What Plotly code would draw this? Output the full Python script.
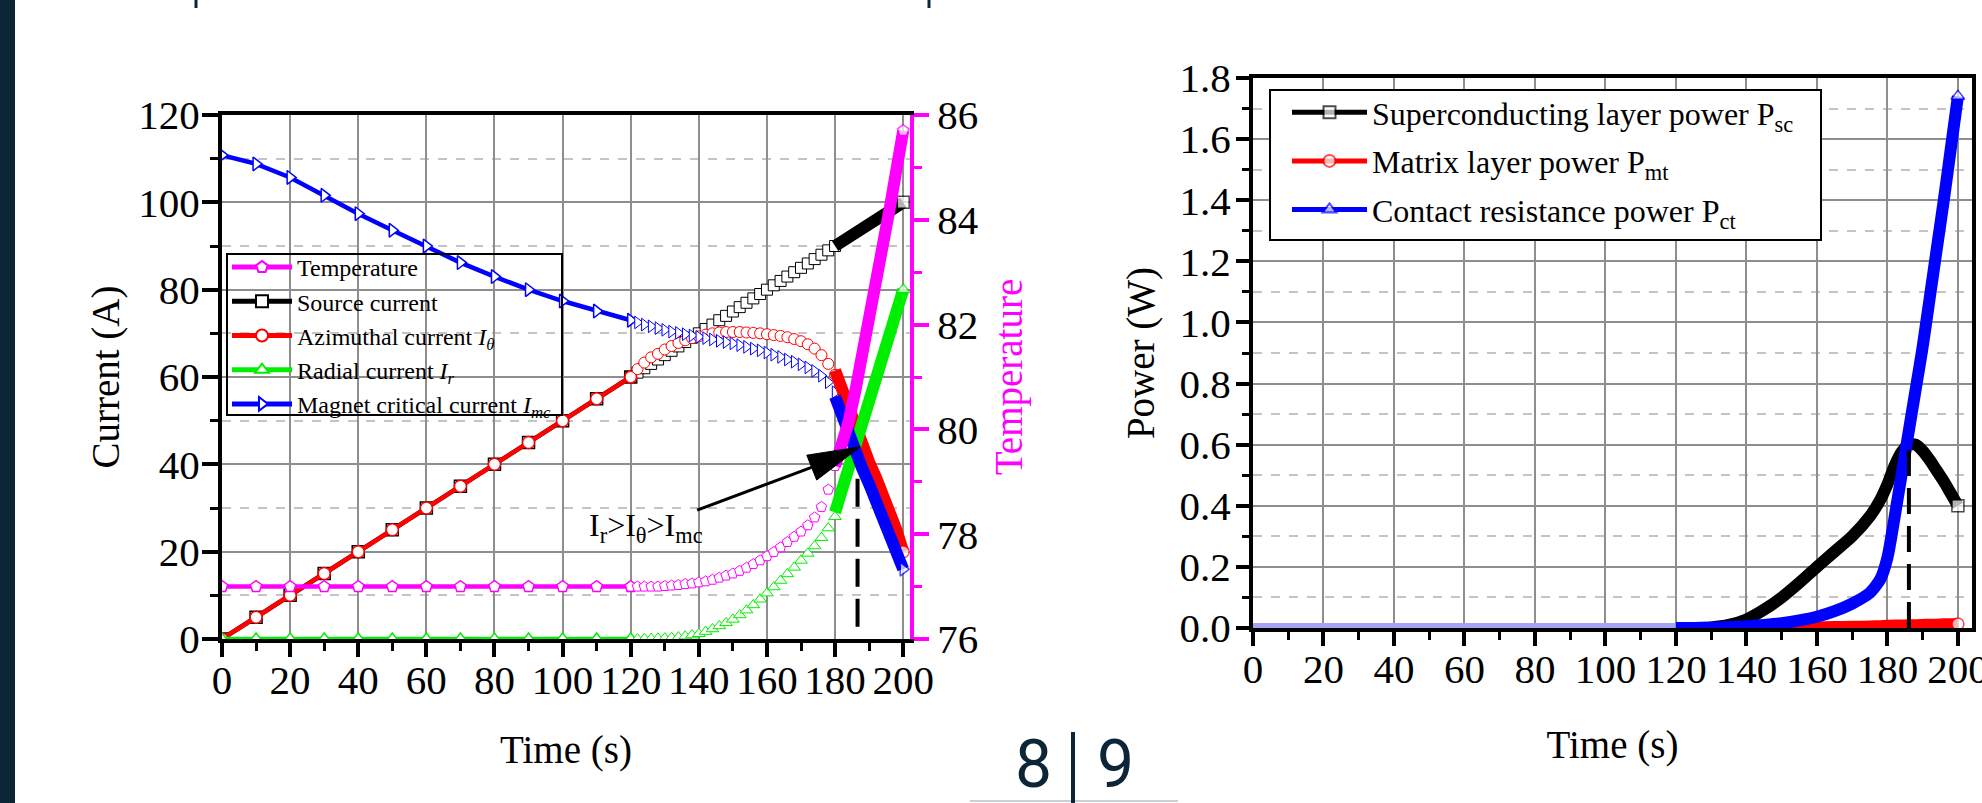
import plotly.graph_objects as go

W, H = 1982, 803
FONT = "Liberation Serif"
MAG = "#ff00ff"
RED = "#ff0000"
GREEN = "#00ee00"
BLUE = "#0000ff"
NAVY = "#0c2537"

# ---------------- Left chart: currents and temperature ----------------
T_SPARSE = [0, 10, 20, 30, 40, 50, 60, 70, 80, 90, 100, 110, 120]
TEMP_SPARSE = [77.0, 77.0, 77.0, 77.0, 77.0, 77.0, 77.0, 77.0, 77.0, 77.0, 77.0, 77.0, 77.0]
SRC_SPARSE = [0, 5, 10, 15, 20, 25, 30, 35, 40, 45, 50, 55, 60]
AZI_SPARSE = [0, 5, 10, 15, 20, 25, 30, 35, 40, 45, 50, 55, 60]
RAD_SPARSE = [0, 0, 0, 0, 0, 0, 0, 0, 0, 0, 0, 0, 0]
IMC_SPARSE = [110.8, 108.8, 105.7, 101.6, 97.4, 93.6, 90.0, 86.2, 83.0, 80.0, 77.4, 75.1, 73.0]

T_DENSE = [120, 122, 124, 126, 128, 130, 132, 134, 136, 138, 140, 142, 144, 146, 148, 150,
           152, 154, 156, 158, 160, 162, 164, 166, 168, 170, 172, 174, 176, 178, 180]
TEMP_DENSE = [77.0, 77.0, 77.0, 77.0, 77.0, 77.01, 77.02, 77.03, 77.05, 77.06, 77.08, 77.1,
              77.13, 77.17, 77.21, 77.25, 77.3, 77.36, 77.43, 77.5, 77.58, 77.66, 77.75,
              77.85, 77.95, 78.05, 78.17, 78.32, 78.52, 78.85, 79.3]
SRC_DENSE = [60, 61, 62, 63, 64, 65, 66, 67, 68, 69, 70, 71, 72, 73, 74, 75, 76, 77, 78, 79,
             80, 81, 82, 83, 84, 85, 86, 87, 88, 89, 90]
AZI_DENSE = [60.0, 61.8, 63.3, 64.5, 65.3, 66.3, 67.1, 67.8, 68.4, 68.9, 69.3, 69.7, 70.0,
             70.2, 70.3, 70.3, 70.3, 70.2, 70.1, 70.0, 69.8, 69.6, 69.4, 69.1, 68.7, 68.2,
             67.5, 66.5, 65.0, 63.0, 60.5]
RAD_DENSE = [0.0, 0.0, 0.05, 0.1, 0.15, 0.2, 0.3, 0.45, 0.65, 0.9, 1.2, 1.7, 2.3, 3.0, 3.7,
             4.5, 5.5, 6.6, 7.8, 9.1, 10.5, 11.9, 13.4, 14.9, 16.4, 18.0, 19.6, 21.3, 23.2,
             25.4, 28.0]
IMC_DENSE = [73.0, 72.5, 72.0, 71.6, 71.2, 70.8, 70.4, 70.1, 69.8, 69.5, 69.2, 68.9, 68.6,
             68.3, 68.0, 67.7, 67.3, 66.9, 66.5, 66.1, 65.6, 65.1, 64.6, 64.0, 63.5, 62.9,
             62.2, 61.4, 60.3, 58.8, 56.5]

T_THICK = [180, 182, 184, 186, 188, 190, 192, 194, 196, 198, 200]
TEMP_THICK = [79.3, 79.7, 80.15, 80.75, 81.4, 82.05, 82.75, 83.45, 84.2, 84.95, 85.7]
SRC_THICK = [90, 91, 92, 93, 94, 95, 96, 97, 98, 99, 100]
AZI_THICK = [61.5, 57.0, 52.5, 48.0, 44.0, 40.5, 37.0, 33.5, 29.5, 25.0, 20.0]
RAD_THICK = [29.0, 34.0, 39.0, 44.0, 49.0, 53.5, 58.5, 63.5, 69.0, 74.5, 80.0]
IMC_THICK = [55.5, 51.0, 47.0, 43.0, 39.0, 35.5, 31.5, 27.5, 23.5, 20.0, 16.0]

QUENCH_T_LEFT = 186.6
QUENCH_I = [2.8, 43.0]

# ---------------- Right chart: power ----------------
TP_ZERO = [0, 10, 20, 30, 40, 50, 60, 70, 80, 90, 100, 110, 120]
P_ZERO = [0, 0, 0, 0, 0, 0, 0, 0, 0, 0, 0, 0, 0]
TP = [120, 125, 130, 135, 140, 145, 150, 155, 160, 165, 170, 175, 178, 180, 182, 184,
      186, 188, 190, 192, 194, 196, 198, 200]
PSC = [0.0, 0.0, 0.002, 0.01, 0.028, 0.06, 0.1, 0.148, 0.2, 0.25, 0.3, 0.365, 0.42, 0.47,
       0.53, 0.575, 0.6, 0.6, 0.58, 0.55, 0.515, 0.48, 0.44, 0.40]
PMT = [0.0, 0.0, 0.0, 0.0, 0.0, 0.0, 0.0, 0.001, 0.002, 0.003, 0.004, 0.005, 0.006, 0.007,
       0.008, 0.008, 0.009, 0.009, 0.01, 0.011, 0.011, 0.012, 0.012, 0.013]
PCT = [0.0, 0.0, 0.001, 0.003, 0.006, 0.01, 0.016, 0.025, 0.037, 0.055, 0.08, 0.115, 0.16,
       0.23, 0.36, 0.5, 0.64, 0.78, 0.92, 1.08, 1.24, 1.4, 1.57, 1.74]
QUENCH_T_RIGHT = 186.1
QUENCH_P = [0.0, 0.6]

fig = go.Figure()


def end_sizes(n, s=12):
    return [0] * (n - 1) + [s]


def add_series(name, rank, color, symbol, yaxis, ts, ys, td, yd):
    fig.add_trace(go.Scatter(
        x=ts, y=ys, xaxis="x", yaxis=yaxis, mode="lines+markers", name=name,
        legend="legend", legendrank=rank,
        line=dict(color=color, width=4.5),
        marker=dict(symbol=symbol, size=12, color="white", line=dict(color=color, width=1.5)),
    ))
    fig.add_trace(go.Scatter(
        x=td, y=yd, xaxis="x", yaxis=yaxis, mode="markers", showlegend=False,
        marker=dict(symbol=symbol, size=11, color="white", line=dict(color=color, width=1)),
    ))


def add_thick(color, symbol, yaxis, tt, yt):
    fig.add_trace(go.Scatter(
        x=tt, y=yt, xaxis="x", yaxis=yaxis, mode="lines+markers", showlegend=False,
        line=dict(color=color, width=12),
        marker=dict(symbol=symbol, size=end_sizes(len(tt)), color="white",
                    line=dict(color=color, width=1.5)),
    ))


add_series("Source current", 2, "black", "square", "y", T_SPARSE, SRC_SPARSE, T_DENSE, SRC_DENSE)
add_series("Azimuthal current <i>I</i><sub><i>θ</i></sub>", 3, RED, "circle", "y",
           T_SPARSE, AZI_SPARSE, T_DENSE, AZI_DENSE)
add_series("Radial current <i>I</i><sub><i>r</i></sub>", 4, GREEN, "triangle-up", "y",
           T_SPARSE, RAD_SPARSE, T_DENSE, RAD_DENSE)
add_series("Magnet critical current <i>I</i><sub><i>mc</i></sub>", 5, BLUE, "triangle-right", "y",
           T_SPARSE, IMC_SPARSE, T_DENSE, IMC_DENSE)

fig.add_trace(go.Scatter(
    x=[QUENCH_T_LEFT, QUENCH_T_LEFT], y=QUENCH_I, xaxis="x", yaxis="y", mode="lines",
    showlegend=False, line=dict(color="black", width=4, dash="28px,12px"),
))

add_thick("black", "square", "y", T_THICK, SRC_THICK)
add_thick(RED, "circle", "y", T_THICK, AZI_THICK)
add_thick(GREEN, "triangle-up", "y", T_THICK, RAD_THICK)
add_thick(BLUE, "triangle-right", "y", T_THICK, IMC_THICK)

add_series("Temperature", 1, MAG, "pentagon", "y2", T_SPARSE, TEMP_SPARSE, T_DENSE, TEMP_DENSE)
add_thick(MAG, "pentagon", "y2", T_THICK, TEMP_THICK)

# ---------------- Right chart traces ----------------
for zc in ["black", RED]:
    fig.add_trace(go.Scatter(
        x=TP_ZERO, y=P_ZERO, xaxis="x2", yaxis="y3", mode="lines", showlegend=False,
        line=dict(color=zc, width=6),
    ))
fig.add_trace(go.Scatter(
    x=TP_ZERO, y=P_ZERO, xaxis="x2", yaxis="y3", mode="lines", showlegend=False,
    line=dict(color="#a4a4f2", width=10),
))

for name, rank, color, symbol, vals in [
    ("Superconducting layer power P<sub>sc</sub>", 1, "black", "square", PSC),
    ("Matrix layer power P<sub>mt</sub>", 2, RED, "circle", PMT),
    ("Contact resistance power P<sub>ct</sub>", 3, BLUE, "triangle-up", PCT),
]:
    fig.add_trace(go.Scatter(
        x=TP, y=vals, xaxis="x2", yaxis="y3", mode="lines+markers", name=name,
        legend="legend2", legendrank=rank, legendgroup=name,
        line=dict(color=color, width=12, shape="spline", smoothing=0.6),
        marker=dict(symbol=symbol, size=end_sizes(len(TP)), color="white",
                    line=dict(color=color, width=1.5)),
    ))

fig.add_trace(go.Scatter(
    x=[QUENCH_T_RIGHT, QUENCH_T_RIGHT], y=QUENCH_P, xaxis="x2", yaxis="y3", mode="lines",
    showlegend=False, line=dict(color="black", width=4, dash="26px,12px"),
))

# ---------------- Axes ----------------
GRID = "#8e8e8e"
MINOR_GRID = "#c4c4c4"
TICK_SIZE = 41


def tfont(color="black", size=TICK_SIZE):
    return dict(family=FONT, size=size, color=color)


def x_axis(domain, rng, anchor, standoff):
    return dict(
        domain=domain, range=rng, anchor=anchor, automargin=False,
        showline=True, linecolor="black", linewidth=4,
        mirror=True, ticks="outside", ticklen=14, tickwidth=3.5, tickcolor="black",
        tick0=0, dtick=20, ticklabelstandoff=-12, ticklabeloverflow="allow",
        minor=dict(dtick=10, ticks="outside", ticklen=8, tickwidth=3, tickcolor="black", showgrid=False),
        showgrid=True, gridcolor=GRID, gridwidth=2, zeroline=False,
        tickfont=tfont(),
        title=dict(text="Time (s)", font=tfont(size=39), standoff=standoff),
    )


fig.update_layout(
    width=W, height=H, autosize=False,
    margin=dict(l=0, r=0, t=0, b=0, pad=0, autoexpand=False),
    font=dict(family=FONT, size=TICK_SIZE, color="black"),
    paper_bgcolor="white", plot_bgcolor="rgba(0,0,0,0)",
    showlegend=True,
    xaxis=x_axis([222 / W, 910 / W], [0, 202], "y", 34),
    yaxis=dict(
        domain=[1 - 639 / H, 1 - 115 / H], range=[0, 120], anchor="x", automargin=False,
        showline=True, linecolor="black", linewidth=4, mirror=False,
        ticks="outside", ticklen=16, tickwidth=3.5, tickcolor="black", dtick=20, tick0=0,
        ticklabelstandoff=-6,
        minor=dict(dtick=10, ticks="outside", ticklen=8, tickwidth=3, tickcolor="black",
                   showgrid=True, griddash="dash", gridcolor=MINOR_GRID, gridwidth=1.5),
        showgrid=True, gridcolor=GRID, gridwidth=2, zeroline=False,
        tickfont=tfont(),
        title=dict(text="Current (A)", font=tfont(size=39), standoff=8),
    ),
    yaxis2=dict(
        overlaying="y", side="right", anchor="x", range=[76, 86], automargin=False,
        showline=True, linecolor=MAG, linewidth=4,
        ticks="outside", ticklen=15, tickwidth=3.5, tickcolor=MAG, dtick=2, tick0=76,
        minor=dict(dtick=1, ticks="outside", ticklen=8, tickwidth=3, tickcolor=MAG, showgrid=False),
        showgrid=False, zeroline=False,
        tickfont=tfont(),
        title=dict(text="Temperature", font=tfont(MAG, 39), standoff=18),
    ),
    xaxis2=x_axis([1253 / W, 1972 / W], [0, 204], "y3", 40),
    yaxis3=dict(
        domain=[1 - 628 / H, 1 - 78 / H], range=[0, 1.8], anchor="x2", automargin=False,
        showline=True, linecolor="black", linewidth=4, mirror=True,
        ticks="outside", ticklen=13, tickwidth=3.5, tickcolor="black", dtick=0.2, tick0=0,
        tickformat=".1f", ticklabelstandoff=-3,
        minor=dict(dtick=0.1, ticks="outside", ticklen=7, tickwidth=3, tickcolor="black",
                   showgrid=True, griddash="dash", gridcolor=MINOR_GRID, gridwidth=1.5),
        showgrid=True, gridcolor=GRID, gridwidth=2, zeroline=False,
        tickfont=tfont(),
        title=dict(text="Power (W)", font=tfont(size=39), standoff=14),
    ),
    legend=dict(
        x=227 / W, y=1 - 245 / H, xanchor="left", yanchor="top",
        bgcolor="rgba(0,0,0,0)", borderwidth=0,
        font=dict(family=FONT, size=24, color="black"),
        itemsizing="constant", itemwidth=60, tracegroupgap=0,
    ),
    legend2=dict(
        x=1287 / W, y=1 - 85 / H, xanchor="left", yanchor="top",
        bgcolor="rgba(0,0,0,0)", borderwidth=0,
        font=dict(family=FONT, size=32, color="black"),
        itemsizing="constant", itemwidth=75, tracegroupgap=4,
    ),
)

# legend frames
fig.add_shape(type="rect", xref="paper", yref="paper",
              x0=227 / W, x1=562 / W, y0=1 - 415 / H, y1=1 - 254 / H,
              line=dict(color="black", width=2), fillcolor="rgba(0,0,0,0)", layer="above")
fig.add_shape(type="rect", xref="paper", yref="paper",
              x0=1270 / W, x1=1821 / W, y0=1 - 240 / H, y1=1 - 90 / H,
              line=dict(color="black", width=2), fillcolor="white", layer="above")

# ---------------- Annotation: I_r > I_theta > I_mc with arrow ----------------
fig.add_annotation(
    x=124.5, y=25.6, xref="x", yref="y", showarrow=False,
    text="I<sub>r</sub>>I<sub>θ</sub>>I<sub>mc</sub>",
    font=dict(family=FONT, size=32, color="black"),
)
fig.add_shape(type="line", xref="x", yref="y", x0=139.5, y0=29.5, x1=173.1, y1=39.3,
              line=dict(color="black", width=3))
fig.add_shape(type="path", xref="x", yref="y",
              path="M 187.4 44.0 L 171.7 42.1 L 174.6 36.4 Z",
              fillcolor="black", line=dict(color="black", width=1))

# ---------------- Slide decorations ----------------
fig.add_shape(type="rect", xref="paper", yref="paper", x0=0, x1=15 / W, y0=0, y1=1,
              fillcolor=NAVY, line=dict(width=0), layer="below")
for xm in [196, 929]:
    fig.add_shape(type="line", xref="paper", yref="paper", x0=xm / W, x1=xm / W,
                  y0=1, y1=1 - 8 / H, line=dict(color=NAVY, width=3))
fig.add_shape(type="line", xref="paper", yref="paper", x0=970 / W, x1=1178 / W,
              y0=1 - 801 / H, y1=1 - 801 / H, line=dict(color="#c8d0d8", width=2))
fig.add_shape(type="line", xref="paper", yref="paper", x0=1073 / W, x1=1073 / W,
              y0=1 - 732 / H, y1=0, line=dict(color=NAVY, width=4))
for txt, xc in [("8", 1033), ("9", 1115)]:
    fig.add_annotation(x=xc / W, y=1 - 764 / H, xref="paper", yref="paper", showarrow=False,
                       text=txt, font=dict(family="Roboto", size=66, color=NAVY),
                       xanchor="center", yanchor="middle")

fig.write_html("out.html")
